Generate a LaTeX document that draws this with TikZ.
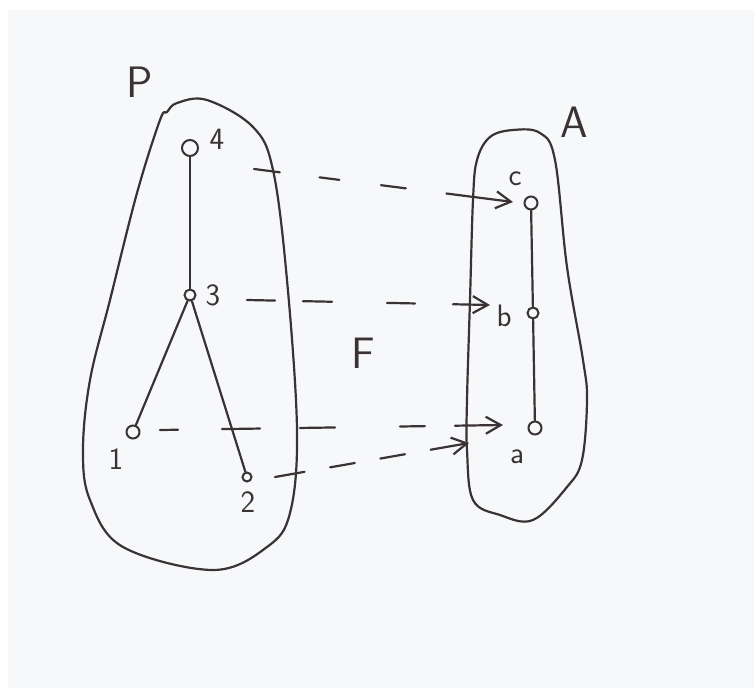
\documentclass[tikz,border=0pt]{standalone}
\usetikzlibrary{arrows.meta}
\definecolor{ink}{HTML}{3A3234}
\definecolor{paper}{HTML}{F7F8FA}
\begin{document}
\begin{tikzpicture}[x=1pt,y=-1pt,
  pen/.style={draw=ink,line width=2.2pt,line cap=round,line join=round},
  vtx/.style={circle,draw=ink,line width=2pt,inner sep=0pt,fill=paper},
  lbl/.style={text=ink,font=\sffamily\fontsize{31}{33}\selectfont,inner sep=0pt},
  biglbl/.style={text=ink,font=\sffamily\fontsize{44}{46}\selectfont,inner sep=0pt},
  mapto/.style={pen,-{Straight Barb[length=15pt,width=17pt,line width=2.2pt]}}]
\useasboundingbox (0,0) rectangle (756,691);
\fill[white] (0,0) rectangle (756,691);
\fill[paper] (8,10) rectangle (754,688);

% outline of the poset P
\draw[pen] plot[smooth cycle,tension=0.6] coordinates {
  (167,112) (177,103) (207,100) (253,127) (273,170) (287,280) (297,430)
  (290,513) (267,547) (213,570) (123,547) (90,500) (83,450) (90,380)
  (110,300) (137,193) (160,120)};
% outline of the poset A
\draw[pen] plot[smooth cycle,tension=0.6] coordinates {
  (490,137) (513,130) (540,133) (555,160) (567,267) (583,360) (587,400)
  (582,460) (567,487) (533,520) (500,515) (473,500) (467,450) (467,400)
  (470,300) (473,200) (477,160)};

% elements of P
\node[vtx,minimum size=16pt] (n4) at (190,148) {};
\node[vtx,minimum size=11pt] (n3) at (190,295) {};
\node[vtx,minimum size=13pt] (n1) at (133,432) {};
\node[vtx,minimum size=9pt]  (n2) at (247,477) {};
\node[lbl] (l4) at (217,139) {4};
\node[lbl] (l3) at (213,295) {3};
\node[lbl] (l1) at (116,459) {1};
\node[lbl] (l2) at (248,502) {2};
\node[biglbl] (lP) at (140,82) {P};

% elements of A
\node[vtx,minimum size=13pt] (nc) at (531,203) {};
\node[vtx,minimum size=11pt] (nb) at (533,313) {};
\node[vtx,minimum size=13pt] (na) at (535,428) {};
\node[lbl] (lc) at (515,179) {c};
\node[lbl] (lb) at (504,316) {b};
\node[lbl] (la) at (517,457) {a};
\node[biglbl] (lA) at (574,122) {A};

\node[biglbl] (lF) at (363,353) {F};

% order relations
\draw[pen] (n4) -- (n3);
\draw[pen] (n3) -- (n1);
\draw[pen] (n3) -- (n2);
\draw[pen] (nc) -- (nb);
\draw[pen] (nb) -- (na);

% the map F, hand-spaced dashes
\coordinate (s4) at (254,169);
\coordinate (s3) at (247,300);
\coordinate (s1) at (160,430);
\coordinate (s2) at (275,477);
\coordinate (e4) at (513,202);
\coordinate (e3) at (490,305);
\coordinate (e1) at (503,425);
\coordinate (e2) at (469,443);
\draw[mapto,dash pattern=on 26pt off 40pt on 20pt off 42pt on 25pt off 41pt on 90pt]
  (s4) -- (e4);
\draw[mapto,dash pattern=on 28pt off 28pt on 29pt off 55pt on 28pt off 38pt on 90pt]
  (s3) -- (e3);
\draw[mapto,dash pattern=on 18pt off 44pt on 38pt off 40pt on 35pt off 65pt on 25pt off 30pt on 90pt]
  (s1) -- (e1);
\draw[mapto,dash pattern=on 30pt off 26pt on 25pt off 26pt on 25pt off 26pt on 90pt]
  (s2) -- (e2);
\end{tikzpicture}
\end{document}
